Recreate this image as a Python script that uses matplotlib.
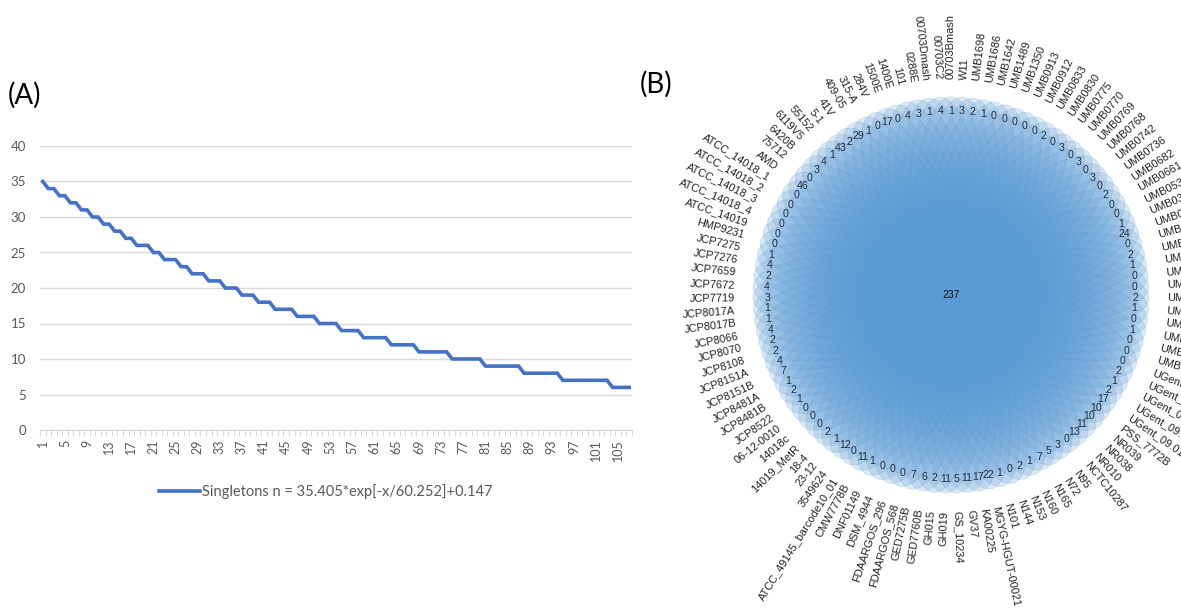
import numpy as np
import matplotlib.pyplot as plt
from matplotlib.patches import Ellipse

# (A) singletons conforme se agregan genomas
genomas = np.arange(1, 108)
singletons = [35, 34, 34, 33, 33, 32, 32, 31, 31, 30, 30, 29, 29, 28, 28, 27, 27,
              26, 26, 26, 25, 25, 24, 24, 24, 23, 23, 22, 22, 22, 21, 21, 21,
              20, 20, 20, 19, 19, 19, 18, 18, 18, 17, 17, 17, 17, 16, 16, 16, 16,
              15, 15, 15, 15, 14, 14, 14, 14, 13, 13, 13, 13, 13, 12, 12, 12, 12, 12,
              11, 11, 11, 11, 11, 11, 10, 10, 10, 10, 10, 10, 9, 9, 9, 9, 9, 9, 9,
              8, 8, 8, 8, 8, 8, 8, 7, 7, 7, 7, 7, 7, 7, 7, 7, 6, 6, 6, 6]
etiqueta_ajuste = "Singletons n = 35.405*exp[-x/60.252]+0.147"

# (B) genes unicos por cepa y nucleo compartido
cepas = ["00703Bmash", "00703C2", "00703Dmash", "0288E", "101", "1400E", "1500E",
         "284V", "315-A", "409-05", "41V", "5-1", "55152", "6119V5", "6420B", "75712",
         "AMD", "ATCC_14018_1", "ATCC_14018_2", "ATCC_14018_3", "ATCC_14018_4",
         "ATCC_14019", "HMP9231", "JCP7275", "JCP7276", "JCP7659", "JCP7672", "JCP7719",
         "JCP8017A", "JCP8017B", "JCP8066", "JCP8070", "JCP8108", "JCP8151A", "JCP8151B",
         "JCP8481A", "JCP8481B", "JCP8522", "06-12-0010", "14018c", "14019_MetR", "18-4",
         "23-12", "3549624", "ATCC_49145_barcode10_01", "CMW7778B", "DNF01149",
         "DSM_4944", "FDAARGOS_296", "FDAARGOS_568", "GED7275B", "GED7760B", "GH015",
         "GH019", "GS_10234", "GV37", "KA00225", "MGYG-HGUT-00021", "N101", "N144",
         "N153", "N160", "N165", "N72", "N95", "NCTC10287", "NR010", "NR038", "NR039",
         "PSS_7772B", "UGent_09.01", "UGent_09.07", "UGent_09.10", "UGent_09.41",
         "UGent_09.48", "UMB0032", "UMB0033", "UMB0034", "UMB0102", "UMB0103", "UMB0104",
         "UMB0170", "UMB0176", "UMB0249", "UMB0285", "UMB0338", "UMB0386", "UMB0388",
         "UMB0538", "UMB0661", "UMB0682", "UMB0736", "UMB0742", "UMB0768", "UMB0769",
         "UMB0770", "UMB0775", "UMB0830", "UMB0833", "UMB0912", "UMB0913", "UMB1350",
         "UMB1489", "UMB1642", "UMB1686", "UMB1698", "W11"]
unicos = [1, 4, 1, 3, 4, 0, 17, 0, 1, 29, 2, 43, 1, 4, 3, 0, 46,
          0, 0, 0, 0, 0, 0,
          1, 4, 2, 4, 3, 1, 1, 4, 2, 2, 4, 7, 1, 2, 1,
          0, 0, 0, 2, 1, 12, 0, 11, 1, 0, 0, 0,
          7, 6, 2, 11, 5, 11, 17, 22, 1, 0, 2, 1, 7, 5,
          3, 0, 13, 11, 10, 10, 17, 2, 1, 2,
          0, 0, 0, 1, 0, 1, 2, 0, 0, 1, 2, 0, 24,
          1, 0, 0, 2, 0, 3, 0, 3, 0, 3, 0, 2, 0, 0, 0, 0, 0, 1, 2, 3]
nucleo = 237

W, H = 1181, 608
fig = plt.figure(figsize=(W / 100, H / 100), dpi=100)

# ---------- panel B: diagrama de flor (unidades en pixeles) ----------
cx, cy = 951, 295
axb = fig.add_axes([0, 0, 1, 1])
axb.set_xlim(-cx, W - cx)
axb.set_ylim(-(H - cy), cy)
axb.axis('off')

n = len(cepas)
paso = 360.0 / n
r_centro, semi_b, semi_a = 74, 124, 38
r_valor, r_texto = 184, 216
azul = '#5B9BD5'

for j in range(n):
    ang = 90 + paso * j
    t = np.deg2rad(ang)
    axb.add_patch(Ellipse((r_centro * np.cos(t), r_centro * np.sin(t)),
                          2 * semi_a, 2 * semi_b, angle=ang - 90,
                          facecolor=azul, edgecolor=azul, alpha=0.22, lw=0.7))

for j in range(n):
    ang = 90 + paso * j
    t = np.deg2rad(ang)
    axb.text(r_valor * np.cos(t), r_valor * np.sin(t), str(unicos[j]),
             ha='center', va='center', fontsize=7.6, color='#1E2B3C',
             family='Liberation Sans')
    if 0 < paso * j < 180:
        rot, ha = paso * j - 90, 'right'
    else:
        rot, ha = ang, 'left'
    axb.text(r_texto * np.cos(t), r_texto * np.sin(t), cepas[j],
             rotation=rot, rotation_mode='anchor', ha=ha, va='center',
             fontsize=7.9, color='#222222', family='Liberation Sans')

axb.text(0, 0, str(nucleo), ha='center', va='center', fontsize=7.5,
         color='#111111', family='Liberation Sans')
fig.text(640 / W, 1 - 84 / H, '(B)', fontsize=20, family='Lato', va='center')

# ---------- panel A: curva de singletons ----------
gris = '#595959'
axa = fig.add_axes([40 / W, 1 - 430 / H, 592 / W, 284 / H])
axa.patch.set_alpha(0)
axa.plot(genomas, singletons, color='#4472C4', lw=2.6, solid_joinstyle='miter',
         label=etiqueta_ajuste)
axa.set_xlim(0.5, len(genomas) + 0.5)
axa.set_ylim(0, 40)
axa.set_yticks(range(0, 41, 5))
axa.grid(axis='y', color='#D9D9D9', lw=1)
axa.set_axisbelow(True)
for lado in ['top', 'right', 'left']:
    axa.spines[lado].set_visible(False)
axa.spines['bottom'].set_color('#D9D9D9')
axa.set_xticks(genomas[::4])
axa.set_xticks(np.arange(0.5, len(genomas) + 1), minor=True)
axa.tick_params(axis='x', which='major', length=0, pad=7, labelrotation=90,
                labelsize=9, labelcolor=gris)
axa.tick_params(axis='x', which='minor', length=4, color='#D9D9D9', width=0.8)
axa.tick_params(axis='y', length=0, pad=10, labelsize=9.5, labelcolor=gris)
for lbl in axa.get_xticklabels() + axa.get_yticklabels():
    lbl.set_family('Lato')

leg = fig.legend(loc='center', bbox_to_anchor=(326 / W, 1 - 492 / H), frameon=False,
                 handlelength=2.8, handletextpad=0.15,
                 prop={'family': 'Lato', 'size': 10.5})
for txt in leg.get_texts():
    txt.set_color(gris)

fig.text(8 / W, 1 - 95 / H, '(A)', fontsize=20, family='Lato', va='center')

fig.savefig('out.png', dpi=100)
